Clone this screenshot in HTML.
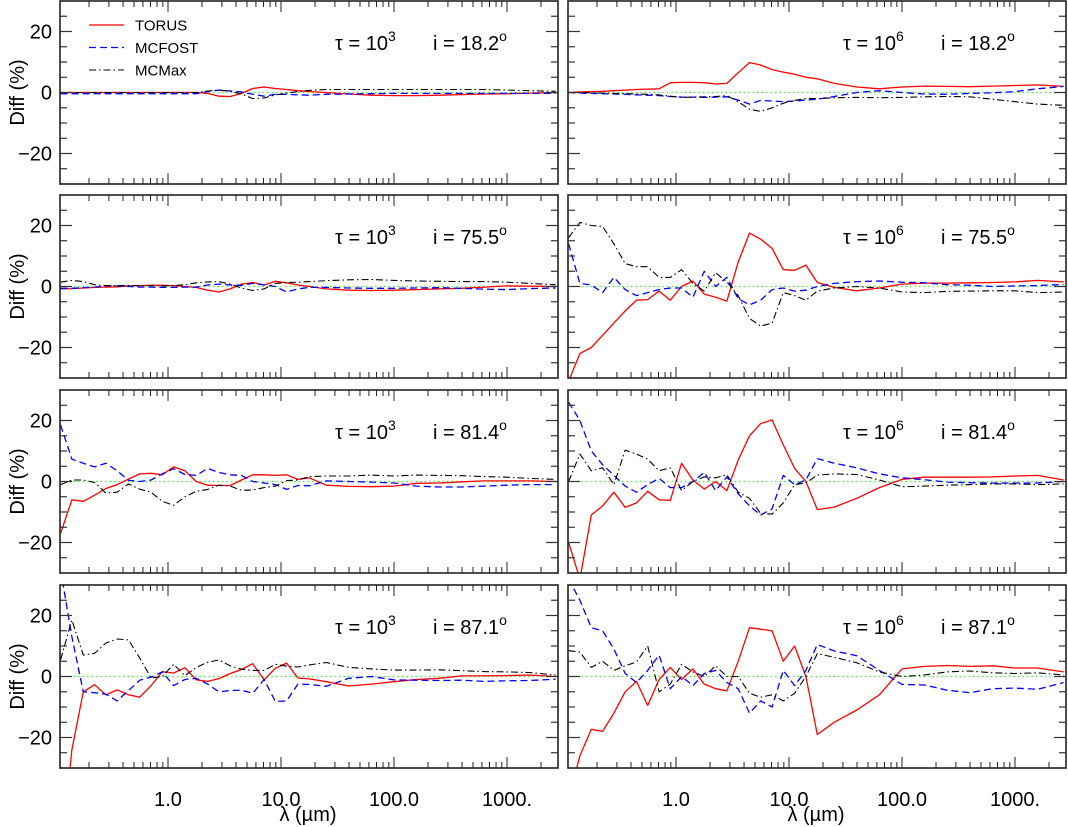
<!DOCTYPE html>
<html><head><meta charset="utf-8">
<style>
html,body{margin:0;padding:0;background:#fff;}
svg{display:block;font-family:"Liberation Sans",Arial,sans-serif;}
</style></head>
<body>
<svg id="chart" width="1068" height="827" viewBox="0 0 1068 827" xmlns="http://www.w3.org/2000/svg"></svg>
<script>
// ---- data ----
const wavelengths = [0.112,0.141,0.178,0.224,0.282,0.355,0.447,0.562,0.708,0.891,1.12,1.41,1.78,2.24,2.82,3.55,4.47,5.62,7.08,8.91,11.2,14.1,17.8,25.1,39.8,63.1,100,158,251,398,631,1000,1585,2692];
const panelTau = ["3","6","3","6","3","6","3","6"];
const panelIncl = ["18.2","18.2","75.5","75.5","81.4","81.4","87.1","87.1"];
const yTickLabels = [20,0,-20];
const xTickValues = [1,10,100,1000];
const xTickLabels = ["1.0","10.0","100.0","1000."];
const seriesNames = ["TORUS","MCFOST","MCMax"];

const torusL1 = [0,0,0,0,0,0,0,0,0,0,0,0,0,-0.3,-1.2,-1.3,-0.3,1.3,1.8,1.3,1.0,0.6,0.3,0,-0.5,-0.9,-1,-1,-0.9,-0.7,-0.5,-0.4,-0.2,0];
const mcfostL1 = [-0.4,-0.4,-0.4,-0.4,-0.4,-0.4,-0.4,-0.4,-0.4,-0.4,-0.4,-0.4,-0.4,0.3,0.8,0.5,0.2,-0.6,-1.2,-0.6,-0.6,-0.8,-0.9,-0.6,-0.5,-0.4,-0.3,-0.3,-0.3,-0.3,-0.3,-0.3,-0.3,-0.3];
const mcmaxL1 = [0,0,0,0,0,0,0,0,0,0,0,0,0,0.5,0.8,0.4,-0.5,-2.0,-1.8,-0.8,-0.2,0.3,0.7,1,1,1,1,1,1,1,1,0.8,0.6,0.4];

const torusR1 = [0,0.2,0.3,0.4,0.6,0.8,1.0,1.1,1.2,3.2,3.3,3.3,3.2,2.8,3.0,6.5,9.8,9.0,7.5,6.7,6.0,5.0,4.5,3.0,1.8,1.2,1.8,2.1,2.0,1.9,2.1,2.3,2.5,2.0];
const mcfostR1 = [0,-0.2,-0.3,-0.4,-0.5,-0.6,-0.8,-0.9,-1.0,-1.3,-1.5,-1.5,-1.6,-1.5,-1.4,-2.5,-3.8,-2.6,-2.8,-3.0,-2.8,-2.5,-2.2,-1.3,0,0.6,0,-0.5,-0.6,-0.3,-0.1,0.3,1.2,2.0];
const mcmaxR1 = [0,0,-0.1,-0.2,-0.3,-0.4,-0.5,-0.6,-0.8,-1.2,-1.6,-1.5,-1.4,-1.3,-1.0,-3.0,-5.5,-6.2,-5.0,-3.5,-2.6,-2.0,-2.0,-1.7,-1.6,-1.7,-1.6,-1.4,-1.3,-1.4,-2.2,-3.0,-3.8,-4.2];

const torusL2 = [-0.8,-0.7,-0.5,-0.3,-0.2,-0.1,0.2,0.3,0.4,0.4,0.3,0.0,-0.3,-1.2,-1.8,-0.8,0.8,1.3,0.5,1.7,1.2,0.5,0,-0.8,-1.2,-1.3,-1.2,-1,-0.8,-0.6,-0.2,0.2,0.1,0];
const mcfostL2 = [-0.6,-0.6,-0.4,-0.2,0.2,0.2,0,-0.2,-0.2,-0.3,-0.3,-0.2,-0.2,0.5,0.8,0.5,0.4,1.0,0.5,0,-1.8,-0.8,-0.3,-0.3,-0.5,-0.6,-0.6,-0.5,-0.4,-0.6,-0.9,-1,-0.7,-0.5];
const mcmaxL2 = [1.4,2,1.6,0.6,0.3,0.3,0.3,0.3,0.3,0.2,0.3,0.6,1.2,1.5,1.6,0.8,-0.5,-1.3,-0.8,1.0,1.3,1.4,1.6,1.9,2.2,2.3,2.0,1.8,1.7,1.6,1.6,1.4,1.0,0.6];

const torusR2 = [-31,-22,-20,-16,-12,-8,-4.5,-4.3,-1.5,-4.5,0,1.8,-2.5,-3.5,-4.8,8,17.5,15.5,12.5,5.5,5.3,7,1.3,-0.3,-1.4,-0.5,0.8,1.1,1.1,1.2,1.3,1.5,2.0,1.5];
const mcfostR2 = [14,1,0.5,-2,3,-1,-3,-2,-1,-0.5,-0.5,-3.5,5,0,3,-4,-6,-4.5,-1,-0.5,-1.5,-1.2,0,1,1.6,1.8,1.4,1.2,0.6,0.4,0,0.2,0.3,0.7];
const mcmaxR2 = [16,21,20,19.7,14,7.5,6.5,6.5,3,3,5.5,1,-1.5,4.5,1.5,-3,-10.5,-13,-12,-2,-3,-4.5,-1.5,-0.5,0,-0.5,-1.8,-2,-1.6,-1.5,-1.4,-1.4,-2,-1.8];

const torusL3 = [-17,-6,-6.5,-4.5,-2.3,-1,0.8,2.5,2.7,2.2,4.8,3.5,0,-1.2,-1.3,-1.3,0.5,2.2,2.2,2,2.2,0.7,1.2,-1.2,-1.6,-1.7,-1.5,-0.6,-0.5,-0.1,0.2,0.2,0.2,0];
const mcfostL3 = [18.5,7.3,6,4.8,6,3.5,0.4,0,0.5,2.5,4.2,2.3,2,4.3,3.0,2.2,2.0,0,-0.5,-1.0,-2.6,-1.3,-1.4,0.2,0,-0.2,-0.5,-1.5,-1.8,-1.8,-1.5,-1.2,-1,-1];
const mcmaxL3 = [-1,0.5,0.5,-0.3,-3.8,-3.5,-0.8,-2.5,-3.5,-6.5,-7.8,-5,-3.2,-2.6,-1.2,-1.5,-2.9,-2.8,-2.0,-1.5,0.3,0.5,1.6,1.8,1.8,2.1,1.8,2.1,2.0,1.9,1.6,1.4,1.0,0.7];

const torusR3 = [-20,-32,-11,-8,-3.5,-8.5,-7,-3.2,-6,-6.2,6,0.5,-2.5,0,-3,7,15,19,20.2,12,4.3,0,-9.2,-8.4,-5.5,-2,0.7,1.4,1.4,1.4,1.5,1.8,2.0,0.5];
const mcfostR3 = [26,20,10,5.5,2,-1.5,-3.5,-1,1,-2,-2,0,3,-3,1.5,-4,-8,-11,-9,2,-1,0.5,7.5,6,4.5,2.5,1.2,0.6,-0.2,-0.4,-0.5,-0.5,-0.5,0];
const mcmaxR3 = [0,9,3.5,4.5,-1,10.3,9,7.3,3.5,4.5,-3,0,1.5,1.2,2.2,-3.5,-5.5,-10.5,-10.7,-7,-1,-0.5,2.1,2.5,2.3,0.5,-1.7,-1.5,-1.2,-1,-0.8,-0.8,-1,-0.8];

const torusL4 = [-60,-24,-5,-2.7,-6,-4.4,-6,-6.8,-3,1.6,1.1,2.9,-1.1,-1.6,-0.7,1,2.3,4.2,-1.1,2.7,4.4,-0.5,-0.8,-1.7,-3.1,-2.5,-1.7,-1,-0.6,0.2,0.2,0.3,0.5,0];
const mcfostL4 = [35,13,-5,-5.3,-5.8,-8,-4.6,-1.2,-0.2,1.5,-3,-1,-0.6,-2.5,-5,-4.6,-4.5,-5.5,-1,-8.2,-8,-2.5,-2.6,-3.2,-0.6,0,-1.1,-1.2,-1.3,-1.2,-1.6,-1.4,-1.3,-0.9];
const mcmaxL4 = [5.5,18.5,7,7.6,11,12.3,12,6.1,-0.5,0,4,0.3,3,4.7,5.4,3.5,2.4,2,2,4,3.4,3.1,3.8,4.6,3,2.5,2.1,2.1,2.2,1.9,1.6,1.5,1.3,0.5];

const torusR4 = [-40,-26,-17.3,-18,-12,-5,-1.6,-9.5,-1,3,-1,2.5,-2.5,-4,-4.7,5,16,15.5,15,5,10,0,-19,-15,-11,-6,2.5,3.3,3.6,3.3,3.5,2.8,2.8,1.5];
const mcfostR4 = [32,25,16,15,9,1,-2,2,7,-4,0,-3,1,2,-2,-4,-12,-8,-10,2,-3,2,10.5,8.4,6.8,2,-2.6,-2.8,-4.5,-5.3,-4,-3.8,-4.2,-2];
const mcmaxR4 = [8.5,8,3,5,2,3.5,4.8,10,-5,-2.5,4,1.5,0,3.5,0,0,-5.5,-6.8,-6,-8,-5.5,0,7.5,6.3,4.5,1.5,0,0.5,1.5,1.8,1.2,1.0,1.2,0.5];

const panelSeries = [
  [torusL1,mcfostL1,mcmaxL1],[torusR1,mcfostR1,mcmaxR1],
  [torusL2,mcfostL2,mcmaxL2],[torusR2,mcfostR2,mcmaxR2],
  [torusL3,mcfostL3,mcmaxL3],[torusR3,mcfostR3,mcmaxR3],
  [torusL4,mcfostL4,mcmaxL4],[torusR4,mcfostR4,mcmaxR4]
];

// ---- layout ----
const NS = "http://www.w3.org/2000/svg";
const svg = document.getElementById("chart");
const colX = [60,568], rowY = [1,195,390,585], PW = 498, PH = 183;
const YMIN = -30, YMAX = 30;
const styles = [
  {stroke:"#ff0000", dash:"", w:1.3},
  {stroke:"#0000ff", dash:"7,4", w:1.3},
  {stroke:"#000000", dash:"7,3,1.5,3", w:1.1}
];
function mk(tag, attrs, parent){
  const e = document.createElementNS(NS, tag);
  for (const k in attrs) e.setAttribute(k, attrs[k]);
  (parent||svg).appendChild(e);
  return e;
}
function xScale(x0, lam){ return x0 + 108 + 113*Math.log10(lam); }
function yScale(y0, v){ return y0 + (YMAX - v)/(YMAX - YMIN)*PH; }

const defs = mk("defs", {});
for (let p = 0; p < 8; p++){
  const col = p % 2, row = Math.floor(p/2);
  const x0 = colX[col], y0 = rowY[row];
  const g = mk("g", {});
  
  
  const cp = mk("clipPath", {id:"clip"+p}, defs);
  mk("rect", {x:x0, y:y0, width:PW, height:PH}, cp);

  const zl = mk("line", {x1:x0, x2:x0+PW, y1:yScale(y0,0), y2:yScale(y0,0), stroke:"#44ee44", "stroke-width":1.3, "stroke-dasharray":"1.5,3"}, g);
  
  

  const sg = mk("g", {"clip-path":"url(#clip"+p+")"}, g);
  panelSeries[p].forEach((vals, si) => {
    const pts = vals.map((v,i) => xScale(x0, wavelengths[i]).toFixed(1)+","+yScale(y0, v).toFixed(1)).join(" ");
    const pl = mk("polyline", {points:pts, fill:"none", stroke:styles[si].stroke, "stroke-width":styles[si].w, "stroke-dasharray":styles[si].dash, "stroke-linejoin":"round"}, sg);
    
    
  });

  const fr = mk("rect", {x:x0, y:y0, width:PW, height:PH, fill:"none", stroke:"#222", "stroke-width":1.6}, g);
  
  

  for (let d = -1; d <= 3; d++){
    for (let m = 1; m <= 9; m++){
      const lam = m*Math.pow(10,d);
      const x = xScale(x0, lam);
      if (x < x0+1 || x > x0+PW-1) continue;
      const len = m === 1 ? 11 : 6;
      mk("line", {x1:x, x2:x, y1:y0+PH, y2:y0+PH-len, stroke:"#222", "stroke-width":1}, g);
      mk("line", {x1:x, x2:x, y1:y0, y2:y0+len, stroke:"#222", "stroke-width":1}, g);
    }
  }
  for (let v = -25; v <= 25; v += 5){
    const y = yScale(y0, v);
    const len = (v % 20 === 0) ? 12 : 7;
    mk("line", {x1:x0, x2:x0+len, y1:y, y2:y, stroke:"#333", "stroke-width":1.2}, g);
    mk("line", {x1:x0+PW, x2:x0+PW-len, y1:y, y2:y, stroke:"#333", "stroke-width":1.2}, g);
  }
  if (col === 0){
    yTickLabels.forEach(v => {
      const t = mk("text", {x:52, y:yScale(y0,v)+7, "text-anchor":"end", "font-size":20, fill:"#000"}, g);
      t.textContent = v < 0 ? "\u2212" + Math.abs(v) : String(v);
      
      
    });
    const yt = mk("text", {x:0, y:0, transform:"translate(24,"+(y0+PH/2)+") rotate(-90)", "text-anchor":"middle", "font-size":20, fill:"#000"}, g);
    yt.textContent = "Diff (%)";
    
    
  }
  const ann = mk("text", {x:x0+275, y:y0+49, "font-size":20, fill:"#000"}, g);
  
  
  const a1 = mk("tspan", {}, ann); a1.textContent = "\u03c4 = 10";
  const a2 = mk("tspan", {dy:-9, "font-size":14}, ann); a2.textContent = panelTau[p];
  const a3 = mk("tspan", {dy:9, x:x0+373}, ann); a3.textContent = "i = " + panelIncl[p];
  const a4 = mk("tspan", {dy:-9, "font-size":14}, ann); a4.textContent = "o";

  if (row === 3){
    xTickValues.forEach((lam, i) => {
      const t = mk("text", {x:xScale(x0,lam), y:806, "text-anchor":"middle", "font-size":20, fill:"#000"}, g);
      t.textContent = xTickLabels[i];
      
      
    });
    const xt = mk("text", {x:x0+248, y:821, "text-anchor":"middle", "font-size":20, fill:"#000"}, g);
    xt.textContent = "\u03bb (\u00b5m)";
    
    
  }
}

const lg = mk("g", {});


seriesNames.forEach((n, i) => {
  const y = 25 + i*22.5;
  const ln = mk("line", {x1:89, x2:124, y1:y, y2:y, stroke:styles[i].stroke, "stroke-width":styles[i].w, "stroke-dasharray":styles[i].dash}, lg);
  
  
  const t = mk("text", {x:135, y:y+5.5, "font-size":15, fill:"#000"}, lg);
  t.textContent = n;
  
  
});
</script>
</body></html>
